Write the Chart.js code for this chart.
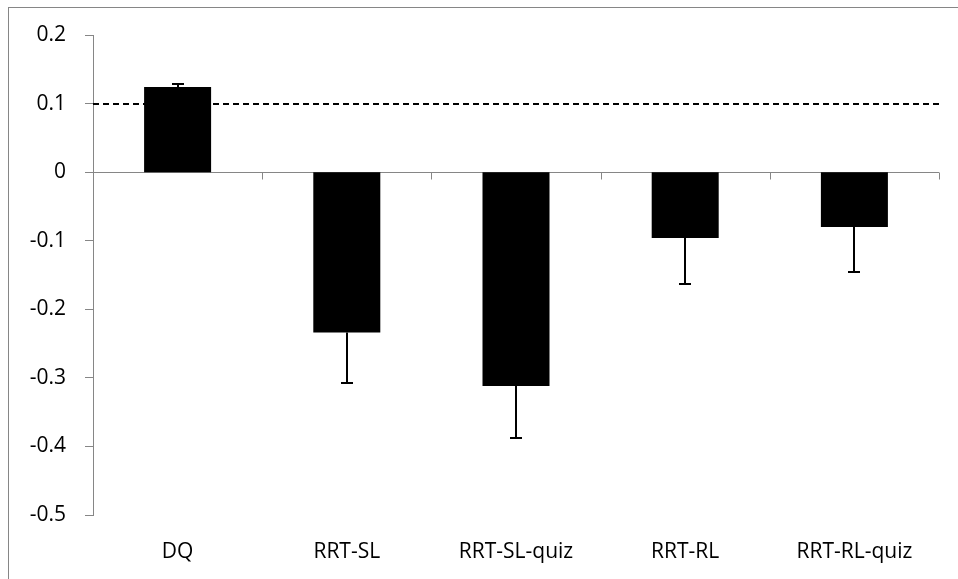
<!DOCTYPE html>
<html>
<head>
<meta charset="utf-8">
<script src="https://cdn.jsdelivr.net/npm/chart.js@4"></script>
<style>
  html, body { margin: 0; padding: 0; background: #ffffff; }
  #wrap { width: 958px; height: 579px; position: relative; }
</style>
</head>
<body>
<div id="wrap"><canvas id="chart" width="958" height="579"></canvas></div>
<script>
// Conditions and their mean scores with one-sided standard errors
const categories = ['DQ', 'RRT-SL', 'RRT-SL-quiz', 'RRT-RL', 'RRT-RL-quiz'];
const means = [0.124, -0.234, -0.312, -0.096, -0.080];
const errors = [0.005, 0.073, 0.076, 0.067, 0.066];
const referenceLevel = 0.1;
const yMin = -0.5, yMax = 0.2, yStep = 0.1;

const AXIS_GREY = '#868686';
const FONT = { family: '"Open Sans", "DejaVu Sans", sans-serif', size: 21 };

// Outer frame, zero axis with category ticks, and the dashed reference line
const decorations = {
  id: 'decorations',
  beforeDraw(chart) {
    const { ctx, chartArea } = chart;
    const y = chart.scales.y;
    ctx.save();
    ctx.strokeStyle = AXIS_GREY;
    ctx.lineWidth = 1;
    ctx.strokeRect(8.5, 7.5, chart.width + 20, chart.height + 20);

    const y0 = Math.round(y.getPixelForValue(0)) + 0.5;
    ctx.beginPath();
    ctx.moveTo(chartArea.left, y0);
    ctx.lineTo(chartArea.right, y0);
    const n = categories.length;
    const w = (chartArea.right - chartArea.left) / n;
    for (let i = 0; i <= n; i++) {
      const x = Math.round(chartArea.left + i * w) + 0.5;
      ctx.moveTo(x, y0);
      ctx.lineTo(x, y0 + 7);
    }
    ctx.stroke();
    ctx.restore();
  },
  afterDatasetsDraw(chart) {
    const { ctx, chartArea } = chart;
    const y = chart.scales.y;
    const meta = chart.getDatasetMeta(0);
    ctx.save();
    // error bars drawn away from zero
    ctx.strokeStyle = '#000000';
    ctx.lineWidth = 2;
    meta.data.forEach((bar, i) => {
      const v = means[i];
      const end = v >= 0 ? v + errors[i] : v - errors[i];
      const yv = y.getPixelForValue(v);
      const ye = Math.round(y.getPixelForValue(end));
      const x = Math.round(bar.x);
      ctx.beginPath();
      ctx.moveTo(x, yv);
      ctx.lineTo(x, ye);
      ctx.moveTo(x - 6, ye);
      ctx.lineTo(x + 6, ye);
      ctx.stroke();
    });
    // dashed reference line
    const yr = Math.round(y.getPixelForValue(referenceLevel));
    ctx.lineWidth = 2;
    ctx.setLineDash([6, 4]);
    ctx.beginPath();
    ctx.moveTo(chartArea.left, yr);
    ctx.lineTo(chartArea.right, yr);
    ctx.stroke();
    ctx.restore();
  }
};

new Chart(document.getElementById('chart'), {
  type: 'bar',
  data: {
    labels: categories,
    datasets: [{
      data: means,
      backgroundColor: '#000000',
      borderWidth: 0,
      categoryPercentage: 1.0,
      barPercentage: 0.396
    }]
  },
  options: {
    responsive: false,
    animation: false,
    layout: { padding: { top: 35, right: 19, left: 0, bottom: 0 } },
    plugins: { legend: { display: false }, tooltip: { enabled: false } },
    scales: {
      x: {
        position: 'bottom',
        grid: { display: false, drawTicks: false },
        border: { display: false },
        ticks: { color: '#000000', font: FONT, padding: 24, maxRotation: 0, autoSkip: false },
        afterFit(scale) { scale.height = 64; }
      },
      y: {
        min: yMin,
        max: yMax,
        grid: { drawOnChartArea: false, drawTicks: true, tickLength: 8, color: AXIS_GREY, lineWidth: 1 },
        border: { display: true, color: AXIS_GREY, width: 1 },
        ticks: {
          stepSize: yStep,
          color: '#000000',
          font: FONT,
          padding: 19,
          callback(v) { return Math.abs(v) < 1e-9 ? '0' : Number(v).toFixed(1); }
        },
        afterFit(scale) { scale.width = 93; }
      }
    }
  },
  plugins: [decorations]
});
</script>
</body>
</html>
